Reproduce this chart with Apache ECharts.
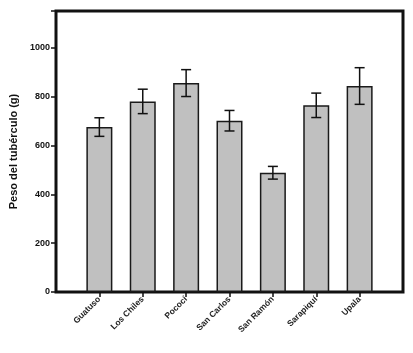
<!DOCTYPE html>
<html>
<head>
<meta charset="utf-8">
<script src="https://cdn.jsdelivr.net/npm/echarts@6/dist/echarts.min.js"></script>
<style>
  html, body { margin: 0; padding: 0; background: #fff; }
  #echart { width: 413px; height: 353px; }
</style>
</head>
<body>
<div id="echart"></div>
<script>
const sites = ['Guatuso', 'Los Chiles', 'Pococí', 'San Carlos', 'San Ramón', 'Sarapiquí', 'Upala'];
const weights = [675, 780, 855, 701, 488, 764, 843];
const errors = [38, 50, 55, 42, 26, 50, 75];
const yTicks = [0, 200, 400, 600, 800, 1000];
const yMax = 1150;

// empty slot at each end so the bars sit one step in from the frame
const labels = [''].concat(sites, ['']);
const barData = [null].concat(weights, [null]);
const errData = sites.map((s, i) => [i + 1, weights[i] - errors[i], weights[i] + errors[i]]);

const chart = echarts.init(document.getElementById('echart'));

const option = {
    animation: false,
    textStyle: { fontFamily: 'Liberation Sans, Arial, sans-serif' },
    grid: {
        left: 55, right: 10, top: 11, bottom: 61,
        show: true, borderColor: '#111', borderWidth: 3, backgroundColor: 'rgba(0,0,0,0)'
    },
    xAxis: {
        type: 'category',
        data: labels,
        boundaryGap: false,
        axisLine: { show: true, lineStyle: { color: '#111', width: 2 } },
        axisTick: {
            inside: false, length: 5,
            interval: (i) => i > 0 && i < labels.length - 1,
            lineStyle: { color: '#111', width: 1.5 }
        },
        axisLabel: {
            interval: 0, rotate: 45, margin: 6,
            fontSize: 8.5, fontWeight: 'bold', color: '#222'
        },
        splitLine: { show: false }
    },
    yAxis: {
        type: 'value',
        min: 0, max: yMax,
        interval: 200,
        name: 'Peso del tubérculo (g)',
        nameLocation: 'middle',
        nameGap: 37,
        nameTextStyle: { fontSize: 11, fontWeight: 'bold', color: '#111' },
        axisLine: { show: true, lineStyle: { color: '#111', width: 2 } },
        axisTick: { show: true, length: 5, lineStyle: { color: '#111', width: 1.5 } },
        axisLabel: {
            fontSize: 9, fontWeight: 'bold', color: '#111', margin: 6,
            formatter: (v) => yTicks.indexOf(v) >= 0 ? String(v) : ''
        },
        splitLine: { show: false }
    },
    series: [{
        type: 'bar',
        data: barData,
        barWidth: 26,
        itemStyle: { color: '#c0c0c0', borderColor: '#1a1a1a', borderWidth: 1.5 }
    }, {
        type: 'custom',
        data: errData,
        z: 10,
        renderItem: function (params, api) {
            const x = api.value(0);
            const lo = api.coord([x, api.value(1)]);
            const hi = api.coord([x, api.value(2)]);
            const cap = 5;
            const style = { stroke: '#111', lineWidth: 1.5 };
            return {
                type: 'group',
                children: [
                    { type: 'line', shape: { x1: lo[0], y1: lo[1], x2: hi[0], y2: hi[1] }, style },
                    { type: 'line', shape: { x1: hi[0] - cap, y1: hi[1], x2: hi[0] + cap, y2: hi[1] }, style },
                    { type: 'line', shape: { x1: lo[0] - cap, y1: lo[1], x2: lo[0] + cap, y2: lo[1] }, style }
                ]
            };
        }
    }]
};

chart.setOption(option);
</script>
</body>
</html>
